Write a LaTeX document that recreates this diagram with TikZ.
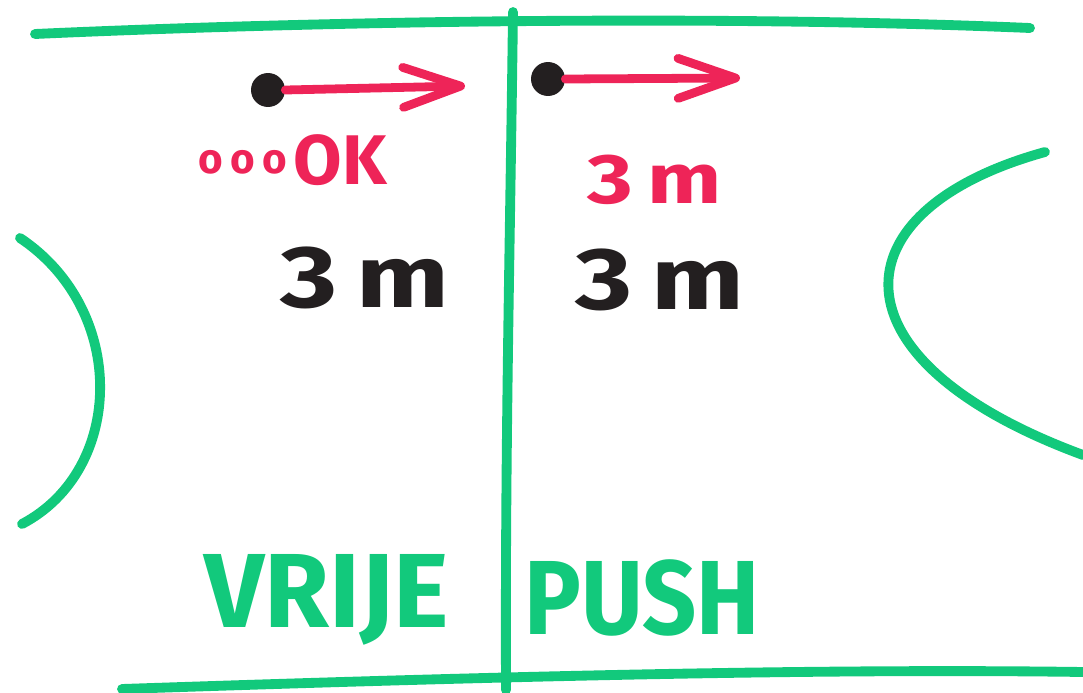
\documentclass[tikz,border=0pt]{standalone}
\usepackage{fontspec}
\setmainfont{Fira Sans}
\usetikzlibrary{arrows.meta}
\definecolor{mgreen}{HTML}{12C97C}
\definecolor{mred}{HTML}{EE2458}
\definecolor{mblack}{HTML}{231F20}
\tikzset{
  court/.style={draw=mgreen, line width=5.6pt, line cap=round, line join=round},
  movearrow/.style={draw=mred, line width=5pt, line cap=round, line join=round,
    -{Straight Barb[length=1.15cm, width=0.8cm, line cap=round, line join=round]}},
  player/.style={circle, fill=mblack, minimum size=0.68cm, inner sep=0pt},
  bigtxt/.style={text=mblack, font=\bfseries\fontsize{50}{54}\selectfont, inner sep=0pt, xscale=1.25},
  redtxt/.style={text=mred, font=\bfseries\fontsize{40}{44}\selectfont, inner sep=0pt},
  greentxt/.style={text=mgreen, font=\bfseries\fontsize{60}{64}\selectfont, inner sep=0pt}
}
\begin{document}
\begin{tikzpicture}[x=0.02cm, y=-0.02cm]
\useasboundingbox (0,0) rectangle (1083,693);
% court lines
\draw[court] (35,34) .. controls (300,22) and (700,14) .. (1030,28);
\draw[court] (122,689) .. controls (450,678) and (800,668) .. (1083,672);
\draw[court] (513,12) .. controls (510,250) and (505,450) .. (506,690);
\draw[court] (20,238) .. controls (128,310) and (125,470) .. (22,524);
\draw[court] (1045,152) .. controls (835,210) and (825,360) .. (1083,455);
% players and moves
\node[player] (p1) at (268,90) {};
\coordinate (a1) at (465,86);
\draw[movearrow] (p1.east) -- (a1);
\node[player] (p2) at (548,79) {};
\coordinate (a2) at (740,78);
\draw[movearrow] (p2.east) -- (a2);
% texts
\node[redtxt] (ok) at (293,160) {\raisebox{0.22cm}{\fontsize{24}{26}\selectfont o\,o\,o\,}OK};
\node[redtxt, xscale=1.25] (r3m) at (655,180) {3\,m};
\node[bigtxt] (b3m1) at (365,278) {3\,m};
\node[bigtxt] (b3m2) at (660,280) {3\,m};
\node[greentxt] (vrije) at (327,600) {VRIJE};
\node[greentxt, xscale=0.9] (push) at (642,598) {PUSH};
\end{tikzpicture}
\end{document}
